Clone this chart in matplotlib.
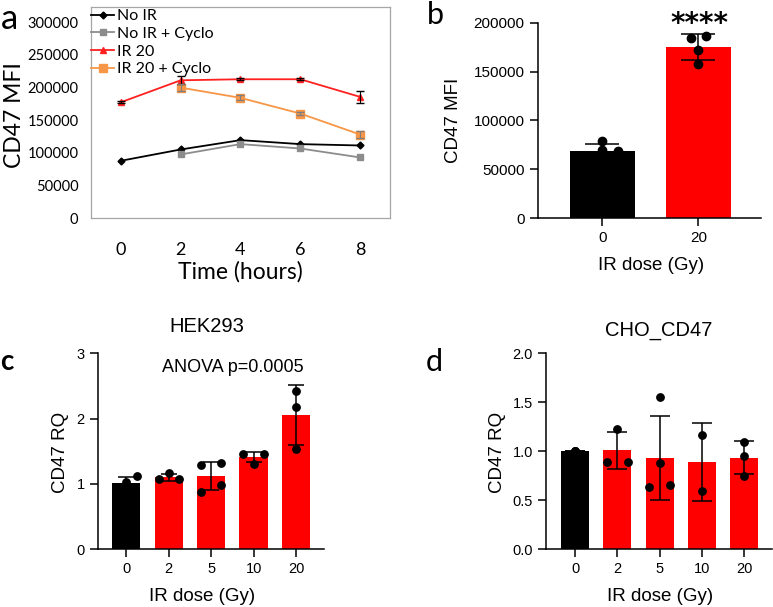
import matplotlib
matplotlib.use("Agg")
import matplotlib.pyplot as plt
import numpy as np

W, H = 773, 607

# panel a: CD47 MFI time course
hours = [0, 2, 4, 6, 8]
no_ir = [87600, 104900, 119200, 113100, 111000]
no_ir_hours = [0, 2, 4, 6, 8]
no_ir_cyclo = [97300, 113100, 106400, 92700]
no_ir_cyclo_err = [2500, 2000, 2000, 2500]
cyclo_hours = [2, 4, 6, 8]
ir20 = [177200, 210800, 212400, 212400, 185400]
ir20_err = [1500, 6000, 1500, 1500, 9700]
ir20_cyclo = [199600, 183900, 159900, 127800]
ir20_cyclo_err = [5000, 4000, 2000, 5000]

# panel b: MFI by dose
b_doses = ["0", "20"]
b_means = [68900, 174700]
b_err = [6500, 13300]
b_points = [[79100, 69600, 68900, 58000], [184000, 186400, 172000, 157300]]
b_jitter = [[0, 0, 0.16, 0.08], [-0.08, 0.08, 0, 0]]

# panel c: HEK293 RQ
doses = ["0", "2", "5", "10", "20"]
c_means = [1.01, 1.10, 1.12, 1.41, 2.05]
c_err = [0.09, 0.06, 0.22, 0.08, 0.46]
c_points = [[0.89, 1.035, 1.127], [1.071, 1.163, 1.071],
            [1.291, 1.327, 0.872, 0.985], [1.464, 1.306, 1.464],
            [2.423, 2.184, 1.531]]
c_jitter = [[-0.24, 0, 0.24], [-0.24, 0, 0.24], [-0.24, 0.24, -0.24, 0.24],
            [-0.24, 0, 0.24], [0, 0, 0]]

# panel d: CHO_CD47 RQ
d_means = [1.0, 1.01, 0.935, 0.89, 0.935]
d_err = [0.0, 0.19, 0.43, 0.40, 0.17]
d_points = [[1.0, 1.0, 1.0], [1.228, 0.891, 0.891],
            [1.554, 0.881, 0.639, 0.66], [1.167, 0.599],
            [1.099, 0.952, 0.752]]
d_jitter = [[0, 0, 0], [0, -0.24, 0.24], [0, 0, -0.24, 0.24], [0, 0], [0, 0, 0]]

XL = "Lato"
AR = "Liberation Sans"


def rect(l, t, r, b):
    return [l / W, 1 - b / H, (r - l) / W, (b - t) / H]


def px(x, y):
    return x / W, 1 - y / H


fig = plt.figure(figsize=(W / 100, H / 100), dpi=100)

# ---- a ----
ax = fig.add_axes(rect(91, 7, 390, 218))
ax.plot(no_ir_hours, no_ir, color="black", marker="D", ms=3.5, lw=1.3,
        label="No IR")
ax.plot(cyclo_hours, no_ir_cyclo, color="#8c8c8c", marker="s", ms=5, lw=1.3,
        label="No IR + Cyclo")
ax.plot(hours, ir20, color="#ff2020", marker="^", ms=5, lw=1.3, label="IR 20")
ax.plot(cyclo_hours, ir20_cyclo, color="#f79646", marker="s", ms=5.5, lw=1.3,
        label="IR 20 + Cyclo")
ax.errorbar(cyclo_hours, no_ir_cyclo, yerr=no_ir_cyclo_err, fmt="none",
            ecolor="#8c8c8c", capsize=2, elinewidth=0.8)
ax.errorbar(hours, ir20, yerr=ir20_err, fmt="none", ecolor="black",
            capsize=3, elinewidth=0.8)
ax.errorbar(cyclo_hours, ir20_cyclo, yerr=ir20_cyclo_err, fmt="none",
            ecolor="#7f7f7f", capsize=3, elinewidth=0.8)
ax.set_xlim(-1, 9)
ax.set_ylim(0, 323000)
ax.set_xticks(hours)
ax.set_xticklabels([str(h) for h in hours], fontfamily=XL, fontsize=13)
ax.set_yticks(range(0, 300001, 50000))
ax.set_yticklabels([str(v) for v in range(0, 300001, 50000)],
                   fontfamily=XL, fontsize=10.5)
ax.tick_params(length=0)
ax.tick_params(axis="y", pad=9)
ax.tick_params(axis="x", pad=17)
for s in ax.spines.values():
    s.set_color("#a6a6a6")
    s.set_linewidth(0.9)
ax.legend(loc="upper left", bbox_to_anchor=(0.0, 0.99), frameon=False,
          prop={"family": XL, "size": 11.5}, handlelength=1.45,
          handletextpad=0.15, labelspacing=0.22, borderaxespad=0.0,
          borderpad=0.0)
fig.text(*px(15, 115), "CD47 MFI", rotation=90, ha="center", va="center",
         fontfamily=XL, fontsize=16.5)
fig.text(*px(240, 272), "Time (hours)", ha="center", va="center",
         fontfamily=XL, fontsize=16.5)
fig.text(*px(10, 19), "a", ha="center", va="center", fontfamily=XL, fontsize=25)


def prism(ax, means, err, points, jitter, colors, capsize, ms):
    x = np.arange(len(means))
    ax.bar(x, means, width=0.667, color=colors, zorder=1)
    ax.errorbar(x, means, yerr=err, fmt="none", ecolor="black", elinewidth=1.1,
                capsize=capsize, capthick=1.1, zorder=2, clip_on=False)
    for i, (pts, jit) in enumerate(zip(points, jitter)):
        ax.plot([i + j for j in jit], pts, "o", color="black", ms=ms, zorder=3,
                clip_on=False)
    for s in ("top", "right"):
        ax.spines[s].set_visible(False)
    for s in ("left", "bottom"):
        ax.spines[s].set_linewidth(1.1)
    ax.tick_params(direction="out", length=6, width=1.1, labelsize=10.5)
    ax.set_xticks(x)


# ---- b ----
ax = fig.add_axes(rect(537.7, 22.7, 760.7, 218))
prism(ax, b_means, b_err, b_points, b_jitter, ["black", "red"], 12, 6)
ax.set_xlim(-0.675, 1.648)
ax.set_ylim(0, 200000)
ax.set_xticklabels(b_doses, fontfamily=AR, fontsize=11)
ax.set_yticks(range(0, 200001, 50000))
ax.set_yticklabels([str(v) for v in range(0, 200001, 50000)],
                   fontfamily=AR, fontsize=11)
fig.text(*px(453.7, 120), "CD47 MFI", rotation=90, ha="center", va="center",
         fontfamily=AR, fontsize=13.5)
fig.text(*px(650.8, 265), "IR dose (Gy)", ha="center", va="center",
         fontfamily=AR, fontsize=13.5)
fig.text(*px(699.5, 24), "****", ha="center", va="center",
         fontfamily="DejaVu Sans", fontweight="bold", fontsize=20)
fig.text(*px(435, 15), "b", ha="center", va="center", fontfamily=XL, fontsize=22)

# ---- c ----
ax = fig.add_axes(rect(97.7, 353.3, 324, 549.3))
prism(ax, c_means, c_err, c_points, c_jitter, ["black"] + ["red"] * 4, 6, 5.3)
ax.set_xlim(-0.675, 4.66)
ax.set_ylim(0, 3)
ax.set_xticklabels(doses, fontfamily=AR, fontsize=10.5)
ax.set_yticks([0, 1, 2, 3])
ax.set_yticklabels(["0", "1", "2", "3"], fontfamily=AR, fontsize=10.5)
fig.text(*px(60.8, 452.5), "CD47 RQ", rotation=90, ha="center", va="center",
         fontfamily=AR, fontsize=13.5)
fig.text(*px(202.5, 596.7), "IR dose (Gy)", ha="center", va="center",
         fontfamily=AR, fontsize=13.5)
fig.text(*px(206.7, 326.7), "HEK293", ha="center", va="center",
         fontfamily=AR, fontsize=14.5)
fig.text(*px(233.3, 367.3), "ANOVA p=0.0005", ha="center", va="center",
         fontfamily=AR, fontsize=13)
fig.text(*px(7, 362), "c", ha="center", va="center", fontfamily=XL,
         fontweight="bold", fontsize=20)

# ---- d ----
ax = fig.add_axes(rect(546, 353.3, 772, 549.3))
prism(ax, d_means, d_err, d_points, d_jitter, ["black"] + ["red"] * 4, 7, 5.3)
ax.set_xlim(-0.69, 4.66)
ax.set_ylim(0, 2)
ax.set_xticklabels(doses, fontfamily=AR, fontsize=10.5)
ax.set_yticks([0, 0.5, 1.0, 1.5, 2.0])
ax.set_yticklabels(["0.0", "0.5", "1.0", "1.5", "2.0"], fontfamily=AR,
                   fontsize=10.5)
fig.text(*px(497.5, 452.5), "CD47 RQ", rotation=90, ha="center", va="center",
         fontfamily=AR, fontsize=13.5)
fig.text(*px(660, 596.7), "IR dose (Gy)", ha="center", va="center",
         fontfamily=AR, fontsize=13.5)
fig.text(*px(658.3, 330), "CHO_CD47", ha="center", va="center",
         fontfamily=AR, fontsize=14.5)
fig.text(*px(434, 361.7), "d", ha="center", va="center", fontfamily=XL,
         fontsize=22)

fig.savefig("out.png", dpi=100)
